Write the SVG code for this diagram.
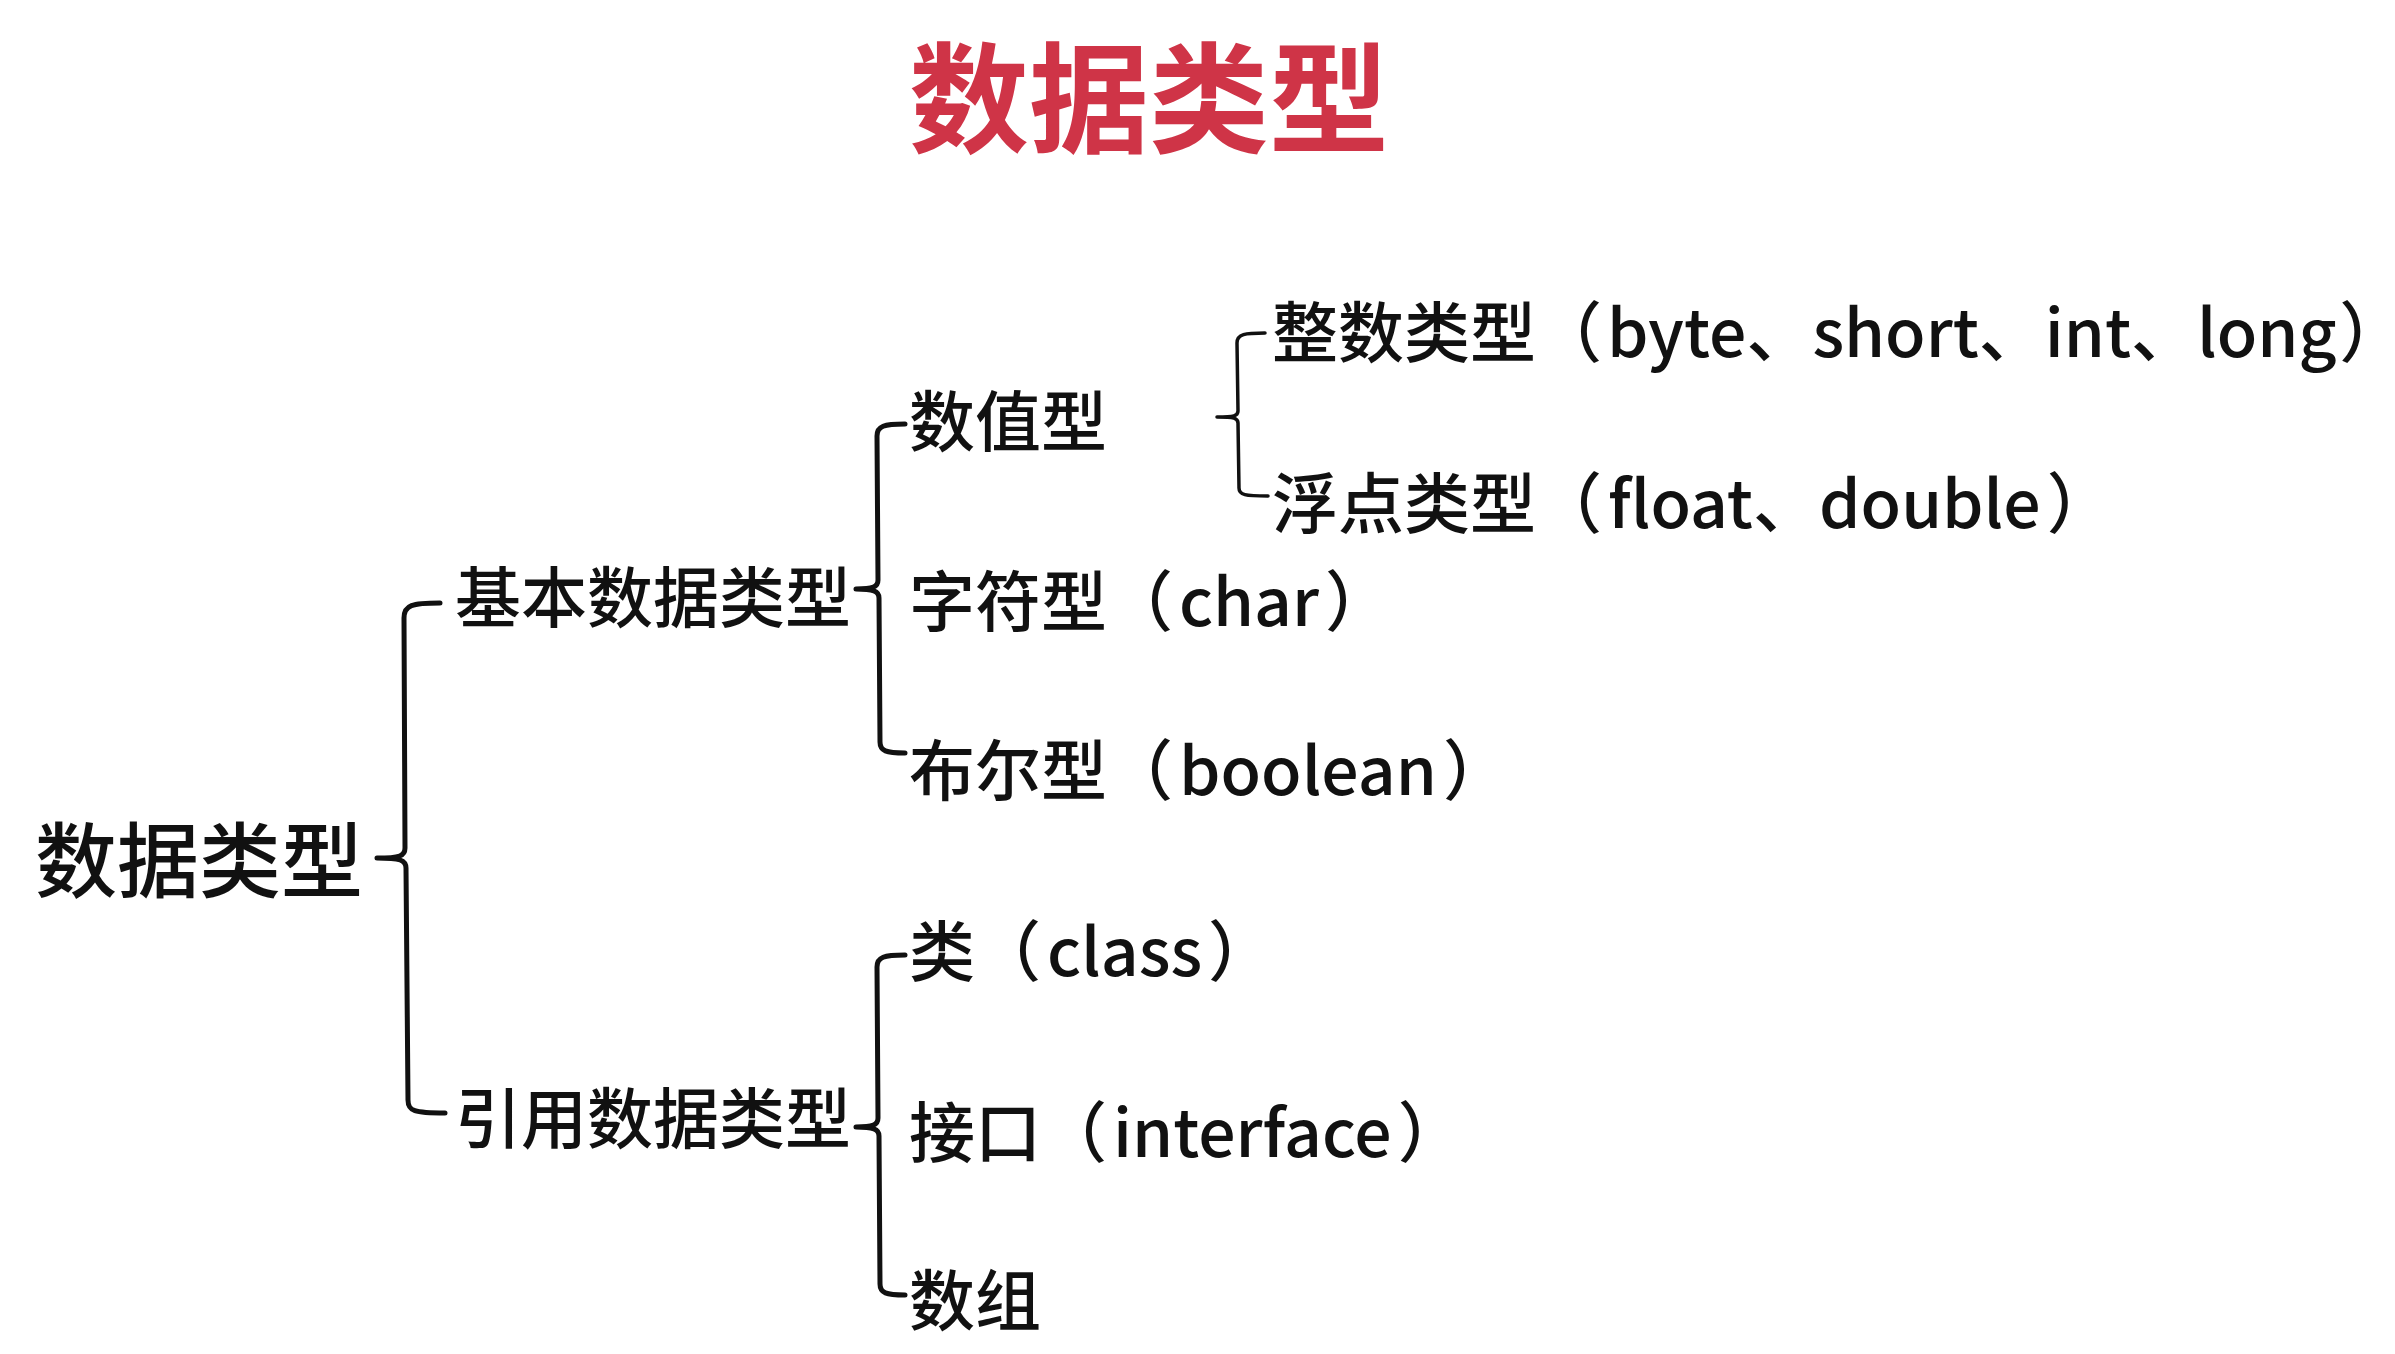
<svg xmlns="http://www.w3.org/2000/svg" width="2395" height="1354" viewBox="0 0 2395 1354">
<style>
text{font-family:"Noto Sans CJK SC","Microsoft YaHei","Noto Sans",sans-serif;fill:#111;font-weight:500}
.title{font-size:120px;font-weight:bold;fill:#cf3447}
.root{font-size:82px}
.l2{font-size:66px}
.l3{font-size:66px}
.palt{font-feature-settings:"palt" 1}
.brace{fill:none;stroke:#111;stroke-width:5;stroke-linecap:round;stroke-linejoin:round}
.thin{stroke-width:3.5}
</style>
<rect width="2395" height="1354" fill="#fff"/>
<g id="title"><text class="title" x="909" y="144">数据类型</text></g>
<g id="connectors">
<path class="brace" d="M440,603 C412,603 404,605 404,618 L405,848 C405,856 400,858 377,858 C400,858 406,860 406,868 L408,1100 C408,1111 414,1113 445,1113"/>
<path class="brace" d="M905,424 C884,424 877,426 877,436 L878,580 C878,587 873,589 856,589 C873,589 879,591 879,598 L880,742 C880,751 886,753 905,753"/>
<path class="brace" d="M905,955 C884,955 877,957 877,967 L878,1118 C878,1125 873,1127 856,1127 C873,1127 879,1129 879,1136 L880,1284 C880,1293 886,1295 905,1295"/>
<path class="brace thin" d="M1265,333 C1245,333 1237,334 1237,343 L1238,411 C1238,416 1234,417 1217,417 C1234,417 1238,418 1238,423 L1239,488 C1239,495 1245,496 1268,496"/>
</g>
<g id="n-root"><text class="root" x="35" y="891">数据类型</text></g>
<g id="n-basic"><text class="l2" x="455" y="622">基本数据类型</text></g>
<g id="n-ref"><text class="l2" x="455" y="1143">引用数据类型</text></g>
<g id="n-numeric"><text class="l3" x="909" y="446">数值型</text></g>
<g id="n-int"><text class="l3" x="1272" y="357">整数类型（<tspan dx="5">byte、short、int、long</tspan><tspan class="palt" dx="5">）</tspan></text></g>
<g id="n-float"><text class="l3" x="1272" y="528">浮点类型（<tspan dx="6">float、double</tspan><tspan dx="6">）</tspan></text></g>
<g id="n-char"><text class="l3" x="909" y="626">字符型（<tspan dx="6">char</tspan><tspan dx="6">）</tspan></text></g>
<g id="n-bool"><text class="l3" x="909" y="795">布尔型（<tspan dx="6">boolean</tspan><tspan dx="6">）</tspan></text></g>
<g id="n-class"><text class="l3" x="909" y="976">类（<tspan dx="6">class</tspan><tspan dx="6">）</tspan></text></g>
<g id="n-iface"><text class="l3" x="909" y="1157">接口（<tspan dx="6">interface</tspan><tspan dx="6">）</tspan></text></g>
<g id="n-array"><text class="l3" x="909" y="1325">数组</text></g>
</svg>
